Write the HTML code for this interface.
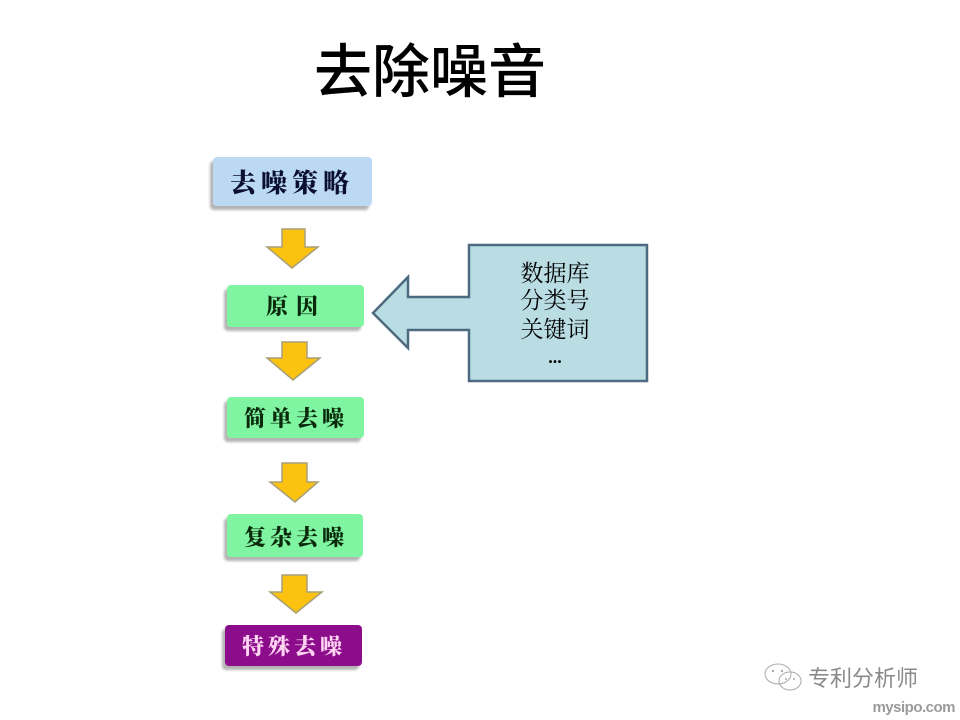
<!DOCTYPE html>
<html><head><meta charset="utf-8">
<style>
html,body{margin:0;padding:0;background:#fff;}
svg{display:block;}
.cal{font-family:"Liberation Serif","Noto Serif CJK SC",serif;font-weight:900;}
</style></head>
<body>
<svg width="960" height="720" viewBox="0 0 960 720" xmlns="http://www.w3.org/2000/svg">
<defs>
<filter id="sh" x="-10%" y="-10%" width="120%" height="140%">
<feGaussianBlur in="SourceAlpha" stdDeviation="1.2"/>
<feOffset dx="-3" dy="4" result="o"/>
<feComponentTransfer><feFuncA type="linear" slope="0.3"/></feComponentTransfer>
<feMerge><feMergeNode/><feMergeNode in="SourceGraphic"/></feMerge>
</filter>
</defs>
<rect width="960" height="720" fill="#fff"/>

<!-- Title -->
<text x="430" y="92" text-anchor="middle" font-family="'Liberation Sans','Noto Sans CJK SC',sans-serif" font-weight="500" font-size="58" fill="#000">去除噪音</text>

<!-- Box 1 -->
<rect x="213" y="157" width="159" height="49" rx="4" fill="#bcd9f3" filter="url(#sh)"/>
<text x="292" y="192" text-anchor="middle" class="cal" font-size="26" letter-spacing="5" fill="#0a0f30">去噪策略</text>

<!-- Arrow 1 -->
<polygon points="282,229 305,229 305,247 318,247 292,268 267,247 282,247" fill="#fbc30f" stroke="#a89f78" stroke-width="1.5"/>

<!-- Box 2 -->
<rect x="227" y="285" width="137" height="42" rx="4" fill="#7ff5a1" filter="url(#sh)"/>
<text x="296" y="314" text-anchor="middle" class="cal" font-size="22" letter-spacing="8" fill="#0b2a0b">原因</text>

<!-- Arrow 2 -->
<polygon points="282,342 307,342 307,358 320,358 293,380 267,358 282,358" fill="#fbc30f" stroke="#a89f78" stroke-width="1.5"/>

<!-- Box 3 -->
<rect x="227" y="397" width="137" height="41" rx="4" fill="#7ff5a1" filter="url(#sh)"/>
<text x="296" y="426" text-anchor="middle" class="cal" font-size="22" letter-spacing="4" fill="#0b2a0b">简单去噪</text>

<!-- Arrow 3 -->
<polygon points="282,463 307,463 307,482 318,482 295,502 270,482 282,482" fill="#fbc30f" stroke="#a89f78" stroke-width="1.5"/>

<!-- Box 4 -->
<rect x="227" y="514" width="136" height="43" rx="4" fill="#7ff5a1" filter="url(#sh)"/>
<text x="296" y="545" text-anchor="middle" class="cal" font-size="22" letter-spacing="4" fill="#0b2a0b">复杂去噪</text>

<!-- Arrow 4 -->
<polygon points="282,575 307,575 307,592 322,592 296,613 270,592 282,592" fill="#fbc30f" stroke="#a89f78" stroke-width="1.5"/>

<!-- Box 5 -->
<rect x="225" y="625" width="137" height="41" rx="4" fill="#8b0a8b" filter="url(#sh)"/>
<text x="294" y="654" text-anchor="middle" class="cal" font-size="22" letter-spacing="4" fill="#ffd4f2">特殊去噪</text>

<!-- Callout arrow -->
<polygon points="373,313 408,277 408,297 469,297 469,245 647,245 647,381 469,381 469,330 408,330 408,348" fill="#b9dde3" stroke="#4d6b80" stroke-width="2.5" stroke-linejoin="miter"/>
<line x1="469" y1="298.5" x2="469" y2="328.5" stroke="#b9dde3" stroke-width="3"/>
<g font-family="'Liberation Serif','Noto Serif CJK SC',serif" font-size="23" fill="#000" text-anchor="middle">
<text x="555" y="281">数据库</text>
<text x="555" y="308">分类号</text>
<text x="555" y="337">关键词</text>
<text x="555" y="363" font-weight="bold" font-size="18">...</text>
</g>

<!-- Watermark -->
<g stroke="#aaa" stroke-width="1" fill="none">
<ellipse cx="778" cy="674" rx="13" ry="10"/>
<ellipse cx="790" cy="681" rx="11" ry="9"/>
</g>
<circle cx="773" cy="671" r="1.2" fill="#aaa"/>
<circle cx="782" cy="671" r="1.2" fill="#aaa"/>
<circle cx="786" cy="679" r="1" fill="#aaa"/>
<circle cx="794" cy="679" r="1" fill="#aaa"/>
<text x="808" y="686" font-family="'Liberation Sans','Noto Sans CJK SC',sans-serif" font-size="22" fill="#8a8a8a">专利分析师</text>
<text x="955" y="712" text-anchor="end" font-family="'Liberation Sans',sans-serif" font-weight="bold" font-size="15" fill="#9a9a9a" letter-spacing="-0.5">mysipo.com</text>
</svg>
</body></html>
